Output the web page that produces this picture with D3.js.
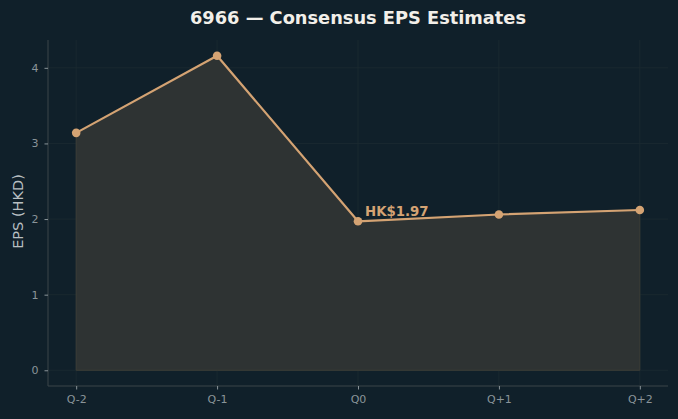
<!DOCTYPE html>
<html>
<head>
<meta charset="utf-8">
<script src="https://cdn.jsdelivr.net/npm/d3@7"></script>
<style>
  body { margin: 0; background: #10202a; }
  svg { display: block; }
</style>
</head>
<body>
<div id="wrapper"></div>
<script>
// chart data
const quarters = ["Q-2", "Q-1", "Q0", "Q+1", "Q+2"]
const epsValues = [3.14, 4.16, 1.97, 2.06, 2.12]
const yTicks = [0, 1, 2, 3, 4]
const highlightIndex = 2

const lineColor = "#d4a373"

// dimensions
const dimensions = {
  width: 678,
  height: 419,
  margin: { top: 40, right: 10, bottom: 33, left: 48 },
}
dimensions.boundWidth = dimensions.width - dimensions.margin.left - dimensions.margin.right
dimensions.boundHeight = dimensions.height - dimensions.margin.top - dimensions.margin.bottom

const wrapper = d3.select("#wrapper")
  .append("svg")
    .attr("width", dimensions.width)
    .attr("height", dimensions.height)
    .style("font-family", "DejaVu Sans")

wrapper.append("rect")
  .attr("width", dimensions.width)
  .attr("height", dimensions.height)
  .attr("fill", "#10202a")

const bounds = wrapper.append("g")
  .attr("transform", `translate(${dimensions.margin.left}, ${dimensions.margin.top})`)

// scales (matplotlib-style 5% margins)
const xScale = d3.scaleLinear()
  .domain([-0.2, quarters.length - 1 + 0.2])
  .range([0, dimensions.boundWidth])

const yMax = d3.max(epsValues)
const yPad = yMax * 0.05
const yScale = d3.scaleLinear()
  .domain([-yPad, yMax + yPad])
  .range([dimensions.boundHeight, 0])

// grid
const grid = bounds.append("g").attr("id", "grid")
grid.selectAll(".hgrid")
  .data(yTicks)
  .join("line")
    .attr("x1", 0)
    .attr("x2", dimensions.boundWidth)
    .attr("y1", d => yScale(d))
    .attr("y2", d => yScale(d))
    .attr("stroke", "#1c2b31")
    .attr("stroke-width", 0.8)
grid.selectAll(".vgrid")
  .data(quarters)
  .join("line")
    .attr("x1", (d, i) => xScale(i))
    .attr("x2", (d, i) => xScale(i))
    .attr("y1", 0)
    .attr("y2", dimensions.boundHeight)
    .attr("stroke", "#1c2b31")
    .attr("stroke-width", 0.8)

// area
const area = d3.area()
  .x((d, i) => xScale(i))
  .y0(yScale(0))
  .y1(d => yScale(d))

bounds.append("path")
  .datum(epsValues)
  .attr("d", area)
  .attr("fill", "#2e3333")
  .attr("stroke", "#3c3e37")
  .attr("stroke-width", 1)

// line
const line = d3.line()
  .x((d, i) => xScale(i))
  .y(d => yScale(d))

bounds.append("path")
  .datum(epsValues)
  .attr("d", line)
  .attr("fill", "none")
  .attr("stroke", lineColor)
  .attr("stroke-width", 2.2)
  .attr("stroke-linejoin", "round")

bounds.append("g")
  .selectAll("circle")
  .data(epsValues)
  .join("circle")
    .attr("cx", (d, i) => xScale(i))
    .attr("cy", d => yScale(d))
    .attr("r", 4.3)
    .attr("fill", lineColor)

// annotation
bounds.append("text")
  .attr("x", xScale(highlightIndex) + 7)
  .attr("y", yScale(epsValues[highlightIndex]) - 5.5)
  .attr("fill", lineColor)
  .attr("font-size", 13.3)
  .attr("font-weight", "bold")
  .text("HK$" + d3.format(".2f")(epsValues[highlightIndex]))

// axes
bounds.append("g")
  .attr("id", "x-axis")
  .attr("transform", `translate(0, ${dimensions.boundHeight})`)
  .call(d3.axisBottom(xScale)
    .tickValues(d3.range(quarters.length))
    .tickFormat(i => quarters[i])
    .tickSize(3.5)
    .tickPadding(6))

bounds.append("g")
  .attr("id", "y-axis")
  .call(d3.axisLeft(yScale)
    .tickValues(yTicks)
    .tickFormat(d3.format("d"))
    .tickSize(3.5)
    .tickPadding(6))

// style axes
bounds.select("#x-axis path")
  .attr("d", `M0,0H${dimensions.boundWidth}`)
bounds.select("#y-axis path")
  .attr("d", `M0,0V${dimensions.boundHeight}`)
bounds.selectAll("#x-axis path, #y-axis path")
  .attr("stroke", "#3b4549")
  .attr("stroke-width", 1)
bounds.selectAll("#x-axis line, #y-axis line")
  .attr("stroke", "#8a9499")
bounds.selectAll("#x-axis .tick text, #y-axis .tick text")
  .attr("fill", "#8a9499")
  .attr("font-size", 11)
  .attr("font-family", "DejaVu Sans")

// y label
wrapper.append("text")
  .attr("transform", `translate(23, ${dimensions.margin.top + yScale(2.1)}) rotate(-90)`)
  .attr("text-anchor", "middle")
  .attr("fill", "#b8bfc2")
  .attr("font-size", 14.5)
  .text("EPS (HKD)")

// title
wrapper.append("text")
  .attr("x", dimensions.margin.left + dimensions.boundWidth / 2)
  .attr("y", 24)
  .attr("text-anchor", "middle")
  .attr("fill", "#f2efe9")
  .attr("font-size", 17.8)
  .attr("font-weight", "bold")
  .text("6966 — Consensus EPS Estimates")
</script>
</body>
</html>
